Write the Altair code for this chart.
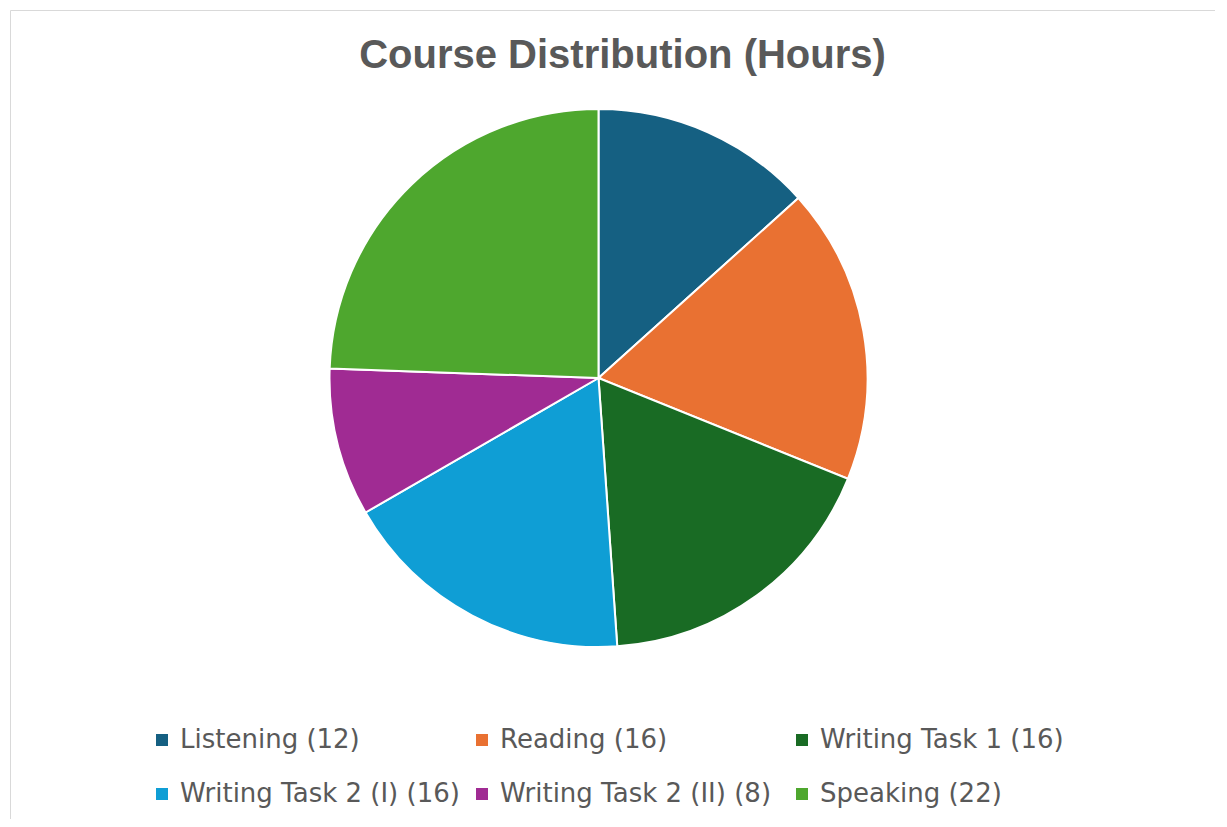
import altair as alt
import pandas as pd

categories = [
    "Listening (12)",
    "Reading (16)",
    "Writing Task 1 (16)",
    "Writing Task 2 (I) (16)",
    "Writing Task 2 (II) (8)",
    "Speaking (22)",
]
hours = [12, 16, 16, 16, 8, 22]
colors = ["#156082", "#E97132", "#196B24", "#0F9ED5", "#A02B93", "#4EA72E"]
order = [0, 1, 2, 3, 4, 5]

df = pd.DataFrame({"category": categories, "hours": hours, "order": order})

W, H = 1229, 830

chart = (
    alt.Chart(df)
    .mark_arc(radius=269, stroke="white", strokeWidth=2)
    .encode(
        theta=alt.Theta("hours:Q", stack=True),
        order=alt.Order("order:Q"),
        color=alt.Color(
            "category:N",
            sort=categories,
            scale=alt.Scale(domain=categories, range=colors),
            legend=alt.Legend(
                title=None,
                orient="none",
                direction="horizontal",
                legendX=139,
                legendY=717,
                columns=3,
                gridAlign="all",
                columnPadding=9,
                rowPadding=28,
                padding=0,
                symbolType="square",
                symbolSize=144,
                symbolStrokeWidth=0,
                labelOffset=5,
                labelFont="DejaVu Sans",
                labelFontSize=26,
                labelColor="#595959",
                labelLimit=0,
            ),
        ),
        x=alt.value(588.5),
        y=alt.value(368),
    )
    .properties(
        width=W,
        height=H,
        padding={"left": 2, "top": 2, "right": -24, "bottom": -21},
        autosize=alt.AutoSizeParams(type="none"),
        title=alt.TitleParams(
            text="Course Distribution (Hours)",
            font="Liberation Sans",
            fontSize=40,
            fontWeight="bold",
            color="#595959",
            anchor="middle",
            frame="group",
            baseline="alphabetic",
            offset=0,
            dx=-2,
            dy=98,
        ),
    )
    .configure_view(stroke="#d9d9d9", strokeWidth=1)
)

chart.save("out.html", embed_options={"renderer": "svg", "actions": False})
